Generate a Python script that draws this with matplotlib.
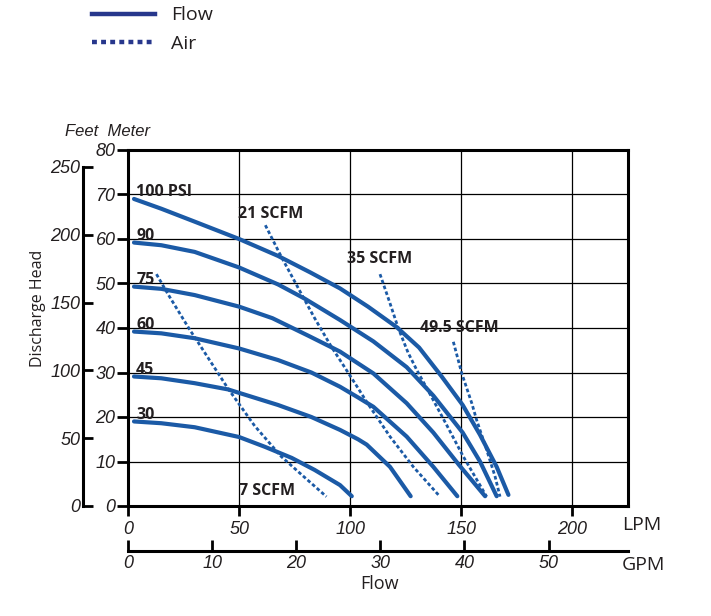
import matplotlib
matplotlib.use("Agg")
import matplotlib.pyplot as plt
from matplotlib.lines import Line2D

# ---- pump curves: flow (LPM) vs discharge head (m) ----
psi_labels = ["100 PSI", "90", "75", "60", "45", "30"]

psi100_lpm = [2.7, 15, 30, 50, 67.5, 82, 95.4, 108, 120.9, 131, 141, 150.6, 158.4, 165.9, 171.2]
psi100_m = [69.0, 66.8, 63.9, 60.0, 56.2, 52.5, 48.9, 44.8, 40.2, 35.6, 29.2, 22.7, 16.0, 8.8, 2.5]

psi90_lpm = [2.7, 15, 30, 50, 67.5, 79.5, 95.4, 110.4, 125.4, 137.4, 150.6, 158.4, 165.9]
psi90_m = [59.2, 58.6, 57.1, 53.6, 49.8, 46.6, 41.8, 37.0, 31.2, 24.8, 16.5, 10.0, 2.2]

psi75_lpm = [2.7, 15, 30, 50, 65, 81, 95.4, 110.4, 125.4, 137.4, 149, 160.7]
psi75_m = [49.3, 48.8, 47.4, 44.8, 42.2, 38.3, 34.7, 29.8, 23.1, 16.5, 9.2, 2.2]

psi60_lpm = [2.7, 15, 30, 50, 67.5, 82.5, 95.4, 103.5, 110.4, 125.4, 137.4, 148.2]
psi60_m = [39.2, 38.8, 37.7, 35.4, 32.8, 30.0, 26.8, 24.4, 22.3, 15.6, 8.8, 2.2]

psi45_lpm = [2.7, 15, 30, 45, 67.5, 82.5, 95.4, 103.5, 107.4, 117.9, 127.2]
psi45_m = [29.1, 28.7, 27.6, 26.2, 22.7, 20.0, 17.1, 15.0, 13.8, 8.8, 2.2]

psi30_lpm = [2.7, 15, 30, 50, 61.6, 73.7, 84, 95.4, 100.7]
psi30_m = [19.0, 18.6, 17.7, 15.5, 13.3, 10.8, 8.1, 4.7, 2.2]

# ---- air consumption lines ----
air_labels = ["7 SCFM", "21 SCFM", "35 SCFM", "49.5 SCFM"]

air7_lpm = [12.8, 18, 27.8, 31.5, 45, 57, 69, 78.2, 89.3]
air7_m = [52.1, 47.6, 39.6, 36.8, 26.4, 18.0, 11.1, 7.0, 2.1]

air21_lpm = [61.8, 69, 79.5, 84, 91.5, 95.4, 103.5, 107.4, 117.9, 128.4, 140.4]
air21_m = [63.1, 56.0, 46.3, 42.2, 35.8, 32.8, 26.5, 23.4, 15.6, 8.8, 2.1]

air35_lpm = [113.4, 117.6, 121.6, 126, 129.9, 135.2, 143.4, 150.9, 161.4]
air35_m = [52.1, 46.0, 40.0, 34.5, 30.6, 25.8, 18.2, 11.1, 2.1]

air49_lpm = [146.4, 150.2, 154.7, 156.9, 161.4, 165.2, 167.4]
air49_m = [36.9, 29.8, 23.1, 19.3, 12.6, 6.6, 2.1]

# ---- axis ticks ----
lpm_ticks = [0, 50, 100, 150, 200]
meter_ticks = [0, 10, 20, 30, 40, 50, 60, 70, 80]
feet_ticks = [0, 50, 100, 150, 200, 250]
gpm_ticks = [0, 10, 20, 30, 40, 50]

LPM_PER_GPM = 3.785
M_PER_FT = 0.3048

curve_color = "#1b5aa6"
legend_color = "#27378c"
text_color = "#231f20"
tick_font = "Liberation Sans"
label_font = "Open Sans"

fig = plt.figure(figsize=(7.11, 6.16), dpi=100)
ax = fig.add_axes([128 / 711, 1 - 506 / 616, 500 / 711, 356 / 616])

flows = [
    (psi100_lpm, psi100_m),
    (psi90_lpm, psi90_m),
    (psi75_lpm, psi75_m),
    (psi60_lpm, psi60_m),
    (psi45_lpm, psi45_m),
    (psi30_lpm, psi30_m),
]
for (x, y), lab in zip(flows, psi_labels):
    ax.plot(x, y, color=curve_color, lw=3.0, solid_capstyle="round",
            solid_joinstyle="round", zorder=3)
    ax.text(x[0] + 1.0, y[0] + 0.6, lab, fontsize=11.5, fontweight="bold",
            family=label_font, color=text_color, ha="left", va="baseline", zorder=4)

airs = [
    (air7_lpm, air7_m),
    (air21_lpm, air21_m),
    (air35_lpm, air35_m),
    (air49_lpm, air49_m),
]
for x, y in airs:
    ax.plot(x, y, color=curve_color, lw=2.0, linestyle=(0, (1.3, 0.9)), zorder=3)

# SCFM labels
air_text_pos = [(50.0, 2.5), (49.5, 64.7), (98.7, 54.6), (131.4, 39.0)]
for (tx, ty), lab in zip(air_text_pos, air_labels):
    ax.text(tx, ty, lab, fontsize=11.5, fontweight="bold", family=label_font,
            color=text_color, ha="left", va="baseline", zorder=4)

ax.set_xlim(0, 225)
ax.set_ylim(0, 80)
ax.grid(True, color="black", lw=0.9)
ax.set_axisbelow(True)
for sp in ax.spines.values():
    sp.set_linewidth(2.2)

ax.set_xticks(lpm_ticks)
ax.set_xticklabels([str(t) for t in lpm_ticks], fontstyle="italic",
                   family=tick_font, fontsize=13, color=text_color)
ax.set_yticks(meter_ticks)
ax.set_yticklabels([str(t) for t in meter_ticks], fontstyle="italic",
                   family=tick_font, fontsize=13, color=text_color)
ax.tick_params(axis="x", direction="out", length=7, width=2, pad=4)
ax.tick_params(axis="y", direction="out", length=8, width=2, pad=1)

# feet axis (left, outside)
feet = ax.secondary_yaxis(-0.09, functions=(lambda m: m / M_PER_FT, lambda f: f * M_PER_FT))
feet.set_yticks(feet_ticks)
feet.set_yticklabels([str(t) for t in feet_ticks], fontstyle="italic",
                     family=tick_font, fontsize=13, color=text_color)
feet.spines["left"].set_bounds(0, 250)
feet.spines["left"].set_linewidth(2.2)
feet.tick_params(direction="in", length=7, width=2, pad=2)

fig.text(38 / 711, 1 - 308 / 616, "Discharge Head", family=label_font, fontsize=11.5,
         color=text_color, ha="center", va="center", rotation=90)

# GPM axis (below)
gpm = ax.secondary_xaxis(-0.1256, functions=(lambda l: l / LPM_PER_GPM, lambda g: g * LPM_PER_GPM))
gpm.set_xticks(gpm_ticks)
gpm.set_xticklabels([str(t) for t in gpm_ticks], fontstyle="italic",
                    family=tick_font, fontsize=13, color=text_color)
gpm.spines["bottom"].set_linewidth(2.2)
gpm.tick_params(direction="in", length=8, width=2, pad=3)

# unit captions
ax.text(0.988, -0.053, "LPM", transform=ax.transAxes, family=label_font, fontsize=14,
        color=text_color, ha="left", va="center")
ax.text(0.988, -0.166, "GPM", transform=ax.transAxes, family=label_font, fontsize=14,
        color=text_color, ha="left", va="center")
fig.text(380 / 711, 1 - 584 / 616, "Flow", family=label_font, fontsize=13,
         color=text_color, ha="center", va="center")
fig.text(65 / 711, 1 - 131 / 616, "Feet  Meter", family=tick_font, fontstyle="italic",
         fontsize=12, color=text_color, ha="left", va="center")

# legend
handles = [
    Line2D([], [], color=legend_color, lw=3.2),
    Line2D([], [], color=legend_color, lw=3.2, linestyle=(0, (1.1, 0.95))),
]
fig.legend(handles, ["Flow", "Air"], loc="upper left",
           bbox_to_anchor=(92 / 711, 1 - 6.5 / 616), frameon=False,
           prop={"family": label_font, "size": 14}, handlelength=3.25,
           handletextpad=0.8, labelspacing=0.55, borderpad=0, borderaxespad=0,
           labelcolor=text_color)

fig.savefig("out.png", dpi=100)
